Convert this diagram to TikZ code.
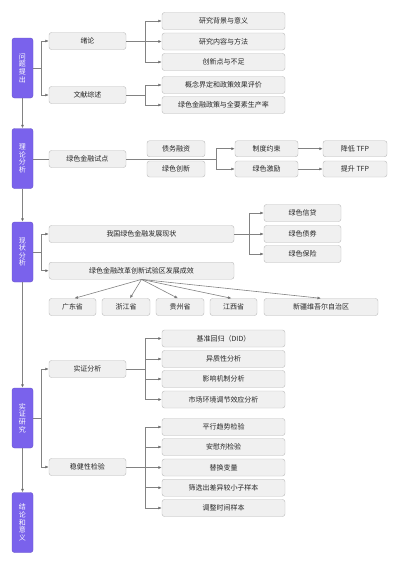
\documentclass[tikz,border=0pt]{standalone}
\usepackage{fontspec}
\setmainfont{Noto Sans CJK SC}
\usepackage{tikz}
\usetikzlibrary{arrows.meta}
\definecolor{stagepurple}{RGB}{122,98,236}
\definecolor{boxgray}{RGB}{240,240,240}
\definecolor{edgegray}{RGB}{185,185,185}
\definecolor{linegray}{RGB}{130,130,130}

\begin{document}
\begin{tikzpicture}[x=1pt,y=-1pt,
    stage/.style={draw=stagepurple!85!black, fill=stagepurple, rounded corners=2.5pt,
      minimum width=21pt, minimum height=60pt, inner sep=0pt, align=center,
      text=white, font=\fontsize{7}{7.6}\selectfont},
    item/.style={draw=edgegray, fill=boxgray, rounded corners=2.5pt,
      minimum height=17pt, inner sep=0pt, font=\fontsize{7}{8}\selectfont, text=black!85},
    ln/.style={draw=linegray, line width=0.6pt},
    arr/.style={ln, -{Latex[length=3.5pt,width=3pt,fill=black]}}]
    \useasboundingbox (0,0) rectangle (400,566);

    % stages on the left
    \node[stage] (s1) at (22.5,68) {问\\题\\提\\出};
    \node[stage] (s2) at (22.5,158.5) {理\\论\\分\\析};
    \node[stage] (s3) at (22.5,252) {现\\状\\分\\析};
    \node[stage] (s4) at (22.5,418) {实\\证\\研\\究};
    \node[stage] (s5) at (22.5,522.5) {结\\论\\和\\意\\义};
    \draw[arr] (s1) -- (s2);
    \draw[arr] (s2) -- (s3);
    \draw[arr] (s3) -- (s4);
    \draw[arr] (s4) -- (s5);

    % problem
    \node[item, minimum width=77pt] (xulun) at (87.5,41) {绪论};
    \node[item, minimum width=77pt] (wenxian) at (87.5,95) {文献综述};
    \node[item, minimum width=123pt] (bj) at (223.5,21) {研究背景与意义};
    \node[item, minimum width=123pt] (nr) at (223.5,41.5) {研究内容与方法};
    \node[item, minimum width=123pt] (cx) at (223.5,62) {创新点与不足};
    \node[item, minimum width=123pt] (gn) at (223.5,85) {概念界定和政策效果评价};
    \node[item, minimum width=123pt] (tfp) at (223.5,105) {绿色金融政策与全要素生产率};
    \coordinate (b1) at (41,68);
    \coordinate (b1a) at (145,41.5);
    \coordinate (b1b) at (145,95);
    \draw[ln] (s1.east |- b1) -- (b1);
    \draw[arr] (b1) |- (xulun);
    \draw[arr] (b1) |- (wenxian);
    \draw[ln] (xulun.east |- b1a) -- (b1a);
    \draw[arr] (b1a) |- (bj);
    \draw[arr] (b1a) -- (nr);
    \draw[arr] (b1a) |- (cx);
    \draw[ln] (wenxian) -- (b1b);
    \draw[arr] (b1b) |- (gn);
    \draw[arr] (b1b) |- (tfp);

    % theory
    \node[item, minimum width=77pt] (sd) at (87.5,159) {绿色金融试点};
    \node[item, minimum width=58pt, minimum height=16pt] (zw) at (176,148.7) {债务融资};
    \node[item, minimum width=58pt, minimum height=16pt] (cxin) at (176,169) {绿色创新};
    \node[item, minimum width=63pt, minimum height=16pt] (zd) at (266.5,148.7) {制度约束};
    \node[item, minimum width=63pt, minimum height=16pt] (jl) at (266.5,169) {绿色激励};
    \node[item, minimum width=64pt, minimum height=16pt] (jd) at (355,148.7) {降低 TFP};
    \node[item, minimum width=64pt, minimum height=16pt] (ts) at (355,169) {提升 TFP};
    \coordinate (b2) at (216,159);
    \draw[ln] (s2.east |- sd) -- (sd);
    \draw[ln] (sd) -- (b2);
    \draw[arr] (b2) |- (zd);
    \draw[arr] (b2) |- (jl);
    \draw[arr] (zd) -- (jd);
    \draw[arr] (jl) -- (ts);

    % status
    \node[item, minimum width=185pt] (xz) at (141.5,234) {我国绿色金融发展现状};
    \node[item, minimum width=185pt] (gg) at (141.5,270.7) {绿色金融改革创新试验区发展成效};
    \node[item, minimum width=77pt] (xd) at (302.5,213) {绿色信贷};
    \node[item, minimum width=77pt] (zq) at (302.5,234) {绿色债券};
    \node[item, minimum width=77pt] (bx) at (302.5,254) {绿色保险};
    \coordinate (b3) at (41,252);
    \coordinate (b4) at (249,234);
    \draw[ln] (s3.east |- b3) -- (b3);
    \draw[arr] (b3) |- (xz);
    \draw[arr] (b3) |- (gg);
    \draw[ln] (xz) -- (b4);
    \draw[arr] (b4) |- (xd);
    \draw[arr] (b4) -- (zq);
    \draw[arr] (b4) |- (bx);
    \node[item, minimum width=47pt] (gd) at (72.5,307) {广东省};
    \node[item, minimum width=48pt] (zj) at (126,307) {浙江省};
    \node[item, minimum width=48pt] (gz) at (180,307) {贵州省};
    \node[item, minimum width=47pt] (jx) at (233.5,307) {江西省};
    \node[item, minimum width=114pt] (xj) at (321,307) {新疆维吾尔自治区};
    \draw[arr] (gg.south) -- ([xshift=2pt]gd.north);
    \draw[arr] (gg.south) -- ([xshift=4pt]zj.north);
    \draw[arr] (gg.south) -- ([xshift=-2pt]gz.north);
    \draw[arr] (gg.south) -- ([xshift=-2pt]jx.north);
    \draw[arr] (gg.south) -- (xj.north);

    % empirical
    \node[item, minimum width=77pt] (sz) at (87.5,369) {实证分析};
    \node[item, minimum width=77pt] (wj) at (87.5,467) {稳健性检验};
    \node[item, minimum width=123pt] (did) at (223.5,338.5) {基准回归（DID）};
    \node[item, minimum width=123pt] (yz) at (223.5,359) {异质性分析};
    \node[item, minimum width=123pt] (jz) at (223.5,379) {影响机制分析};
    \node[item, minimum width=123pt] (sc) at (223.5,399.5) {市场环境调节效应分析};
    \node[item, minimum width=123pt] (px) at (223.5,427) {平行趋势检验};
    \node[item, minimum width=123pt] (awj) at (223.5,447) {安慰剂检验};
    \node[item, minimum width=123pt] (th) at (223.5,467.5) {替换变量};
    \node[item, minimum width=123pt] (sx) at (223.5,487.7) {筛选出差异较小子样本};
    \node[item, minimum width=123pt] (tz) at (223.5,508) {调整时间样本};
    \coordinate (b5) at (41,418);
    \coordinate (b6) at (145,369);
    \coordinate (b7) at (145,467.5);
    \draw[ln] (s4.east |- b5) -- (b5);
    \draw[arr] (b5) |- (sz);
    \draw[arr] (b5) |- (wj);
    \draw[ln] (sz) -- (b6);
    \draw[arr] (b6) |- (did);
    \draw[arr] (b6) |- (yz);
    \draw[arr] (b6) |- (jz);
    \draw[arr] (b6) |- (sc);
    \draw[ln] (wj.east |- b7) -- (b7);
    \draw[arr] (b7) |- (px);
    \draw[arr] (b7) |- (awj);
    \draw[arr] (b7) -- (th);
    \draw[arr] (b7) |- (sx);
    \draw[arr] (b7) |- (tz);
\end{tikzpicture}
\end{document}
